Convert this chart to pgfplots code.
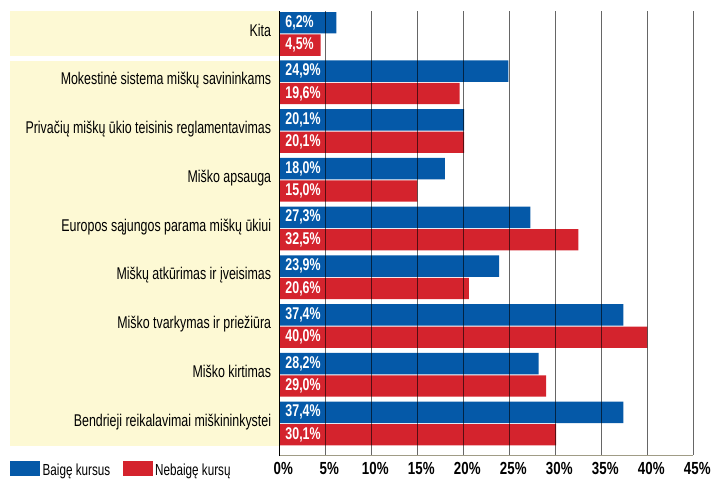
\documentclass[border=0pt]{standalone}
\usepackage{pgfplots}
\pgfplotsset{compat=1.18}
\usepackage{pgfplotstable}
\usepackage{fontspec}
\setmainfont{Liberation Sans}[FakeStretch=0.73]
\newfontfamily\tickfam{Liberation Sans}[FakeStretch=0.76]
\definecolor{cblue}{RGB}{5,89,168}
\definecolor{cred}{RGB}{212,35,45}
\definecolor{cream}{RGB}{253,249,212}
\definecolor{axisline}{RGB}{160,156,134}

\pgfplotstableread{
pos blue red
445.00 6.2 4.5
396.70 24.9 19.6
347.95 20.1 20.1
299.20 18.0 15.0
250.45 27.3 32.5
201.70 23.9 20.6
152.95 37.4 40.0
104.20 28.2 29.0
55.45 37.4 30.1
}\datatable

\begin{document}
\begin{tikzpicture}
\path[use as bounding box] (0,0) rectangle (724bp,479bp);
\fill[cream] (10bp,423.3bp) rectangle (279.3bp,468bp);
\fill[cream] (10bp,33.3bp) rectangle (279.3bp,418bp);
\begin{axis}[
  at={(279.3bp,24bp)}, anchor=south west,
  scale only axis, width=414bp, height=444bp,
  xmin=0, xmax=45, ymin=24, ymax=468,
  axis line style={draw=none}, major tick length=0pt,
  clip=false,
  xtick={0,5,...,45},
  xticklabels={0\%,5\%,10\%,15\%,20\%,25\%,30\%,35\%,40\%,45\%},
  xticklabel style={font=\tickfam\fontsize{17.5bp}{19bp}\selectfont\bfseries, anchor=base, yshift=-20bp, xshift=4bp},
  ytick={445,396.7,347.95,299.2,250.45,201.7,152.95,104.2,55.45},
  yticklabels={Kita, Mokestinė sistema miškų savininkams, Privačių miškų ūkio teisinis reglamentavimas, Miško apsauga, Europos sąjungos parama miškų ūkiui, Miškų atkūrimas ir įveisimas, Miško tvarkymas ir priežiūra, Miško kirtimas, Bendrieji reikalavimai miškininkystei},
  yticklabel style={font=\fontsize{17bp}{19bp}\selectfont, anchor=base east, inner sep=0pt, yshift=-2.5bp, xshift=-8bp},
  legend entries={Baigę kursus, Nebaigę kursų},
  legend style={legend columns=2, draw=none, fill=none, inner sep=0pt,
    at={(axis description cs:-0.6505,-0.0507)}, anchor=south west,
    font=\fontsize{16bp}{18bp}\selectfont,
    nodes={inner sep=0pt, inner xsep=2.5bp},
    /tikz/every even column/.append style={column sep=10bp}},
  legend image code/.code={\fill[#1,draw=none] (0bp,-5bp) rectangle (30bp,10bp);},
]
\addplot[xbar, bar width=21.4, bar shift=11.2, fill=cblue, draw=none] table[x=blue, y=pos] {\datatable};
\addplot[xbar, bar width=21.4, bar shift=-11.2, fill=cred, draw=none] table[x=red, y=pos] {\datatable};
\addplot[draw=none, mark=none, point meta=\thisrow{blue},
  nodes near coords={\pgfmathprintnumber[fixed, fixed zerofill, precision=1, use comma, assume math mode=true]{\pgfplotspointmeta}\%},
  every node near coord/.append style={anchor=west, inner sep=0pt, xshift=6bp, text=white, font=\fontsize{17bp}{19bp}\selectfont\bfseries}]
  table[x expr=0, y expr=\thisrow{pos}+11.2] {\datatable};
\addplot[draw=none, mark=none, point meta=\thisrow{red},
  nodes near coords={\pgfmathprintnumber[fixed, fixed zerofill, precision=1, use comma, assume math mode=true]{\pgfplotspointmeta}\%},
  every node near coord/.append style={anchor=west, inner sep=0pt, xshift=6bp, text=white, font=\fontsize{17bp}{19bp}\selectfont\bfseries}]
  table[x expr=0, y expr=\thisrow{pos}-11.2] {\datatable};
\pgfplotsinvokeforeach{5,10,...,45}{\draw[black, opacity=0.6, line width=1.1bp] (axis cs:#1,24) -- (axis cs:#1,468);}
\draw[axisline, line width=1.5bp] (axis cs:0,23.3) -- (axis cs:45,23.3);
\draw[black, line width=1.4bp] (axis cs:0,23) -- (axis cs:0,468);
\end{axis}
\end{tikzpicture}
\end{document}
